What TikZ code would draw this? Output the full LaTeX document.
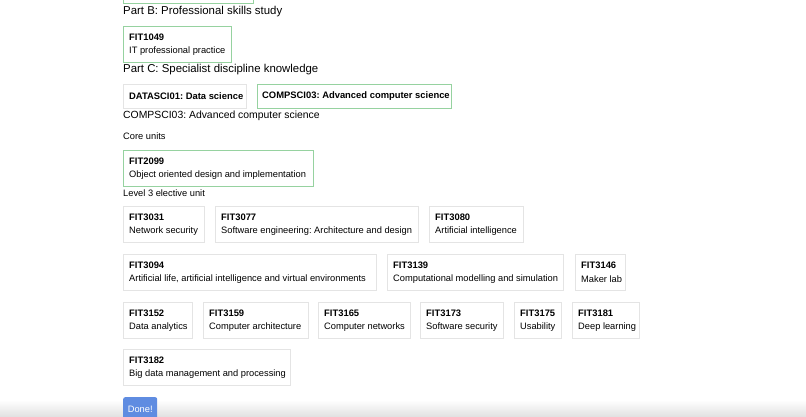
\documentclass[tikz,border=0pt]{standalone}
\usepackage{fontspec}
\setmainfont{Liberation Sans}
\usetikzlibrary{positioning}
\definecolor{boxgreen}{RGB}{150,210,160}
\definecolor{boxgray}{RGB}{228,228,228}
\definecolor{btnblue}{RGB}{95,140,225}
\frenchspacing
\tikzset{
	unitbox/.style = {draw, line width=0.8pt, inner sep=0pt, anchor=north west},
	picked/.style = {draw=boxgreen},
	plain/.style = {draw=boxgray},
	codetext/.style = {anchor=west, inner sep=0pt, font=\fontsize{9.4}{10}\selectfont\bfseries},
	nametext/.style = {anchor=west, inner sep=0pt, font=\fontsize{9.3}{10}\selectfont},
	heading/.style = {anchor=west, inner sep=0pt, font=\fontsize{11.4}{13}\selectfont},
	smalltext/.style = {anchor=west, inner sep=0pt, font=\fontsize{9.3}{10}\selectfont}
}
% \unitcard{name}{x}{y}{width}{style}{code}{title}
\newcommand{\unitcard}[7]{%
	\node[unitbox, #5, minimum width=#4pt, minimum height=36pt] (#1) at (#2,#3) {};
	\node[codetext] (#1c) at ([xshift=6pt, yshift=-11pt]#1.north west) {#6};
	\node[nametext] (#1t) at ([xshift=6pt, yshift=-25pt]#1.north west) {#7};
}
\begin{document}
\begin{tikzpicture}[x=1pt, y=-1pt]
	\useasboundingbox[fill=white] (0,0) rectangle (806,417);
	\node[unitbox, picked, minimum width=130pt, minimum height=10pt] (prev) at (123,-7) {};
	\node[heading] (partb) at (123,12) {Part B: Professional skills study};
	\unitcard{fit1049}{123}{26}{108}{picked}{FIT1049}{IT professional practice}
	\node[heading] (partc) at (123,70) {Part C: Specialist discipline knowledge};
	\node[unitbox, plain, minimum width=123pt, minimum height=24pt] (datasci) at (123,84) {};
	\node[codetext] at ([xshift=6pt]datasci.west) {DATASCI01: Data science};
	\node[unitbox, picked, minimum width=194pt, minimum height=24pt] (compsci) at (257,84) {};
	\node[codetext] at ([xshift=5pt]compsci.west) {COMPSCI03: Advanced computer science};
	\node[heading, font=\fontsize{10.4}{12}\selectfont] (major) at (123,116) {COMPSCI03: Advanced computer science};
	\node[smalltext] (core) at (123,136) {Core units};
	\unitcard{fit2099}{123}{150}{190}{picked}{FIT2099}{Object oriented design and implementation}
	\node[smalltext] (elective) at (123,193) {Level 3 elective unit};
	% elective units
	\unitcard{fit3031}{123}{206}{81}{plain}{FIT3031}{Network security}
	\unitcard{fit3077}{215}{206}{203}{plain}{FIT3077}{Software engineering: Architecture and design}
	\unitcard{fit3080}{429}{206}{94}{plain}{FIT3080}{Artificial intelligence}
	\unitcard{fit3094}{123}{254}{253}{plain}{FIT3094}{Artificial life, artificial intelligence and virtual environments}
	\unitcard{fit3139}{387}{254}{176}{plain}{FIT3139}{Computational modelling and simulation}
	\unitcard{fit3146}{575}{254}{50}{plain}{FIT3146}{Maker lab}
	\unitcard{fit3152}{123}{302}{69}{plain}{FIT3152}{Data analytics}
	\unitcard{fit3159}{203}{302}{105}{plain}{FIT3159}{Computer architecture}
	\unitcard{fit3165}{318}{302}{92}{plain}{FIT3165}{Computer networks}
	\unitcard{fit3173}{420}{302}{83}{plain}{FIT3173}{Software security}
	\unitcard{fit3175}{514}{302}{47}{plain}{FIT3175}{Usability}
	\unitcard{fit3181}{572}{302}{67}{plain}{FIT3181}{Deep learning}
	\unitcard{fit3182}{123}{349}{167}{plain}{FIT3182}{Big data management and processing}
	\shade[top color=white, bottom color=black!12] (0,400) rectangle (806,417);
	\node[fill=btnblue, rounded corners=2pt, anchor=north west, minimum width=34pt, minimum height=24pt,
		text=white, font=\fontsize{9.3}{10}\selectfont] (done) at (123,397) {Done!};
\end{tikzpicture}
\end{document}
